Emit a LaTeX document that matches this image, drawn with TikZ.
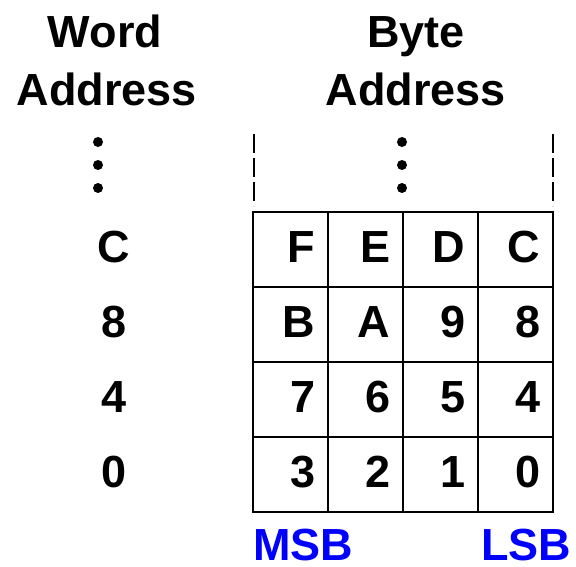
\documentclass[tikz,border=0pt]{standalone}
\usepackage{fontspec}
\setmainfont{Liberation Sans}
\begin{document}
\begin{tikzpicture}[x=1pt,y=-1pt,
  lbl/.style={font=\fontsize{45}{54}\selectfont\bfseries, inner sep=0pt},
  digit/.style={lbl, anchor=base east},
  waddr/.style={lbl, anchor=base},
  head/.style={lbl, anchor=base},
  side/.style={lbl, anchor=base, text=blue},
  cell/.style={draw, line width=1.3pt, minimum width=75pt, minimum height=75pt, inner sep=0pt},
  dot/.style={fill=black, circle, minimum size=10pt, inner sep=0pt},
  dashline/.style={line width=1.2pt, dash pattern=on 19pt off 5pt}]
\useasboundingbox (0,0) rectangle (576,566);
% headers
\node[head] (w1) at (105,47) {Word};
\node[head] (w2) at (107,105) {Address};
\node[head] (b1) at (416,47) {Byte};
\node[head] (b2) at (416,105) {Address};
% dots
\foreach \y/\n in {142/1,165/2,188/3}{
  \node[dot] (ld\n) at (98,\y) {};
  \node[dot] (rd\n) at (402,\y) {};
}
% dashed sides
\coordinate (dl1) at (254,134);
\coordinate (dl2) at (254,206);
\coordinate (dr1) at (553,134);
\coordinate (dr2) at (553,206);
\draw[dashline] (dl1) -- (dl2);
\draw[dashline] (dr1) -- (dr2);
% grid cells
\foreach \r in {0,1,2,3}{
  \foreach \c in {0,1,2,3}{
    \node[cell] (c\r\c) at ({290.5+75*\c},{249.5+75*\r}) {};
  }
}
% cell text
\foreach \r/\a/\b/\cc/\d in {0/F/E/D/C,1/B/A/9/8,2/7/6/5/4,3/3/2/1/0}{
  \node[digit] (t\r0) at ([xshift=-13pt]c\r0.east |- 0,{262+75*\r}) {\a};
  \node[digit] (t\r1) at ([xshift=-13pt]c\r1.east |- 0,{262+75*\r}) {\b};
  \node[digit] (t\r2) at ([xshift=-13pt]c\r2.east |- 0,{262+75*\r}) {\cc};
  \node[digit] (t\r3) at ([xshift=-13pt]c\r3.east |- 0,{262+75*\r}) {\d};
}
% word addresses
\node[waddr] (aC) at (114,262) {C};
\node[waddr] (a8) at (114,337) {8};
\node[waddr] (a4) at (114,412) {4};
\node[waddr] (a0) at (114,487) {0};
% MSB LSB
\node[side] (msb) at (303,560) {MSB};
\node[side] (lsb) at (526,560) {LSB};
\end{tikzpicture}
\end{document}
